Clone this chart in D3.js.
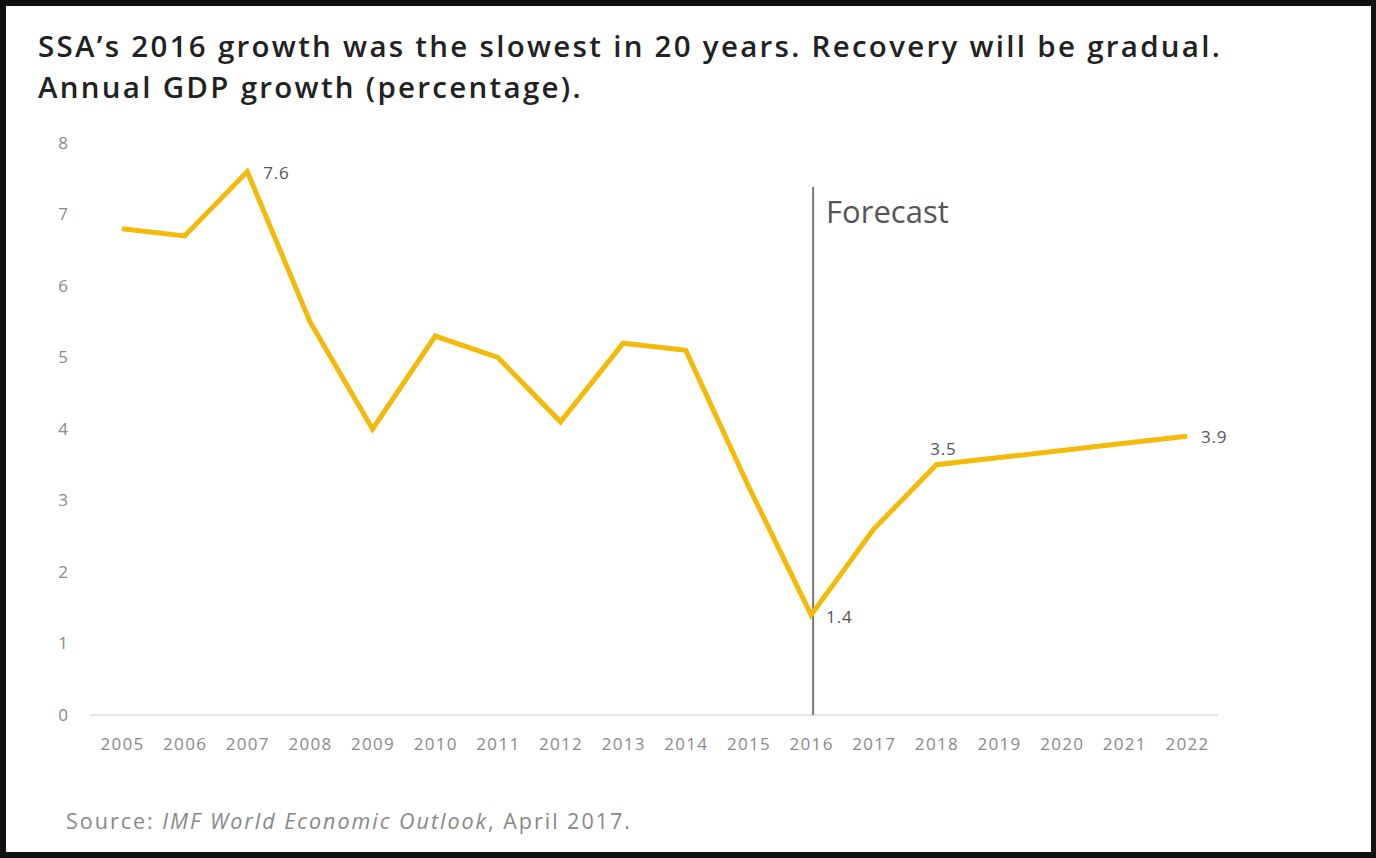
<!DOCTYPE html>
<html>
<head>
<meta charset="utf-8">
<script src="https://cdn.jsdelivr.net/npm/d3@7"></script>
<style>
  body { margin: 0; background: #111; }
  svg { display: block; }
</style>
</head>
<body>
<div id="mount"></div>
<script>
// chart data
var years = [2005, 2006, 2007, 2008, 2009, 2010, 2011, 2012, 2013, 2014, 2015, 2016, 2017, 2018, 2019, 2020, 2021, 2022];
var growth = [6.8, 6.7, 7.6, 5.5, 4.0, 5.3, 5.0, 4.1, 5.2, 5.1, 3.2, 1.4, 2.6, 3.5, 3.6, 3.7, 3.8, 3.9];
var yTicks = [0, 1, 2, 3, 4, 5, 6, 7, 8];
var labelled = [2007, 2016, 2018, 2022];
var forecastYear = 2016;

var W = 1376, H = 858;

var svg = d3.select('#mount').append('svg')
    .attr('width', W)
    .attr('height', H);

// black frame with white panel
svg.append('rect').attr('width', W).attr('height', H).attr('fill', '#111');
svg.append('rect')
    .attr('x', 6).attr('y', 6)
    .attr('width', 1365).attr('height', 846)
    .attr('fill', '#fff');

var font = '"Open Sans", "Noto Sans", sans-serif';

// spread a text with letter spacing so it spans the wanted width
function spreadTo(sel, target) {
  var w = sel.node().getComputedTextLength();
  var n = sel.text().length;
  var ls = (target - w) / n;
  sel.attr('letter-spacing', ls.toFixed(2));
  return ls;
}

// title
var t1 = svg.append('text')
    .attr('x', 38).attr('y', 57)
    .attr('font-family', font)
    .attr('font-size', 29.5)
    .attr('font-weight', 600)
    .attr('fill', '#222')
    .text('SSA\u2019s 2016 growth was the slowest in 20 years. Recovery will be gradual.');
var titleLs = spreadTo(t1, 1184);
svg.append('text')
    .attr('x', 38).attr('y', 98)
    .attr('font-family', font)
    .attr('font-size', 29.5)
    .attr('font-weight', 600)
    .attr('letter-spacing', titleLs.toFixed(2))
    .attr('fill', '#222')
    .text('Annual GDP growth (percentage).');

// scales
var x = d3.scalePoint()
    .domain(years)
    .range([122, 1187]);

var y = d3.scaleLinear()
    .domain([0, 8])
    .range([715, 143]);

// baseline
svg.append('line')
    .attr('x1', 90).attr('x2', 1218)
    .attr('y1', y(0)).attr('y2', y(0))
    .attr('stroke', '#e6e6e6')
    .attr('stroke-width', 2);

// y axis
var yAxis = d3.axisLeft(y).tickValues(yTicks).tickSize(0).tickPadding(0);
svg.append('g')
    .attr('class', 'y-axis')
    .attr('transform', 'translate(63,0)')
    .call(yAxis)
    .call(g => g.select('.domain').remove())
    .call(g => g.selectAll('text')
        .attr('text-anchor', 'middle')
        .attr('font-family', font)
        .attr('font-size', 17)
        .attr('fill', '#8a8a8a'));

// x axis
var xAxis = d3.axisBottom(x).tickSize(0).tickPadding(0);
svg.append('g')
    .attr('class', 'x-axis')
    .attr('transform', 'translate(0,' + 738 + ')')
    .call(xAxis)
    .call(g => g.select('.domain').remove())
    .call(g => g.selectAll('text')
        .attr('font-family', font)
        .attr('font-size', 17)
        .attr('letter-spacing', 1.3)
        .attr('fill', '#8a8a8a'));

// forecast divider
svg.append('line')
    .attr('x1', x(forecastYear) + 2).attr('x2', x(forecastYear) + 2)
    .attr('y1', 187).attr('y2', y(0))
    .attr('stroke', '#777')
    .attr('stroke-width', 2);

svg.append('text')
    .attr('x', x(forecastYear) + 15)
    .attr('y', 223)
    .attr('font-family', font)
    .attr('font-size', 31)
    .attr('fill', '#555')
    .text('Forecast');

// growth line
var data = years.map((yr, i) => ({ year: yr, value: growth[i] }));

var line = d3.line()
    .x(d => x(d.year))
    .y(d => y(d.value));

svg.append('path')
    .datum(data)
    .attr('d', line)
    .attr('fill', 'none')
    .attr('stroke', '#F3BA0A')
    .attr('stroke-width', 5)
    .attr('stroke-linejoin', 'miter');

// value labels
var offsets = {
  2007: { dx: 16, dy: 7, anchor: 'start' },
  2016: { dx: 15, dy: 8, anchor: 'start' },
  2018: { dx: 7, dy: -10, anchor: 'middle' },
  2022: { dx: 14, dy: 7, anchor: 'start' }
};

svg.selectAll('.value-label')
    .data(data.filter(d => labelled.indexOf(d.year) >= 0))
  .enter().append('text')
    .attr('class', 'value-label')
    .attr('x', d => x(d.year) + offsets[d.year].dx)
    .attr('y', d => y(d.value) + offsets[d.year].dy)
    .attr('text-anchor', d => offsets[d.year].anchor)
    .attr('font-family', font)
    .attr('font-size', 17)
    .attr('letter-spacing', 0.8)
    .attr('fill', '#555')
    .text(d => d3.format('.1f')(d.value));

// source note
var src = svg.append('text')
    .attr('x', 66)
    .attr('y', 829)
    .attr('font-family', font)
    .attr('font-size', 21.5)
    .attr('fill', '#888');
src.append('tspan').text('Source: ');
src.append('tspan').attr('font-style', 'italic').text('IMF World Economic Outlook');
src.append('tspan').text(', April 2017.');
spreadTo(src, 566);
</script>
</body>
</html>
